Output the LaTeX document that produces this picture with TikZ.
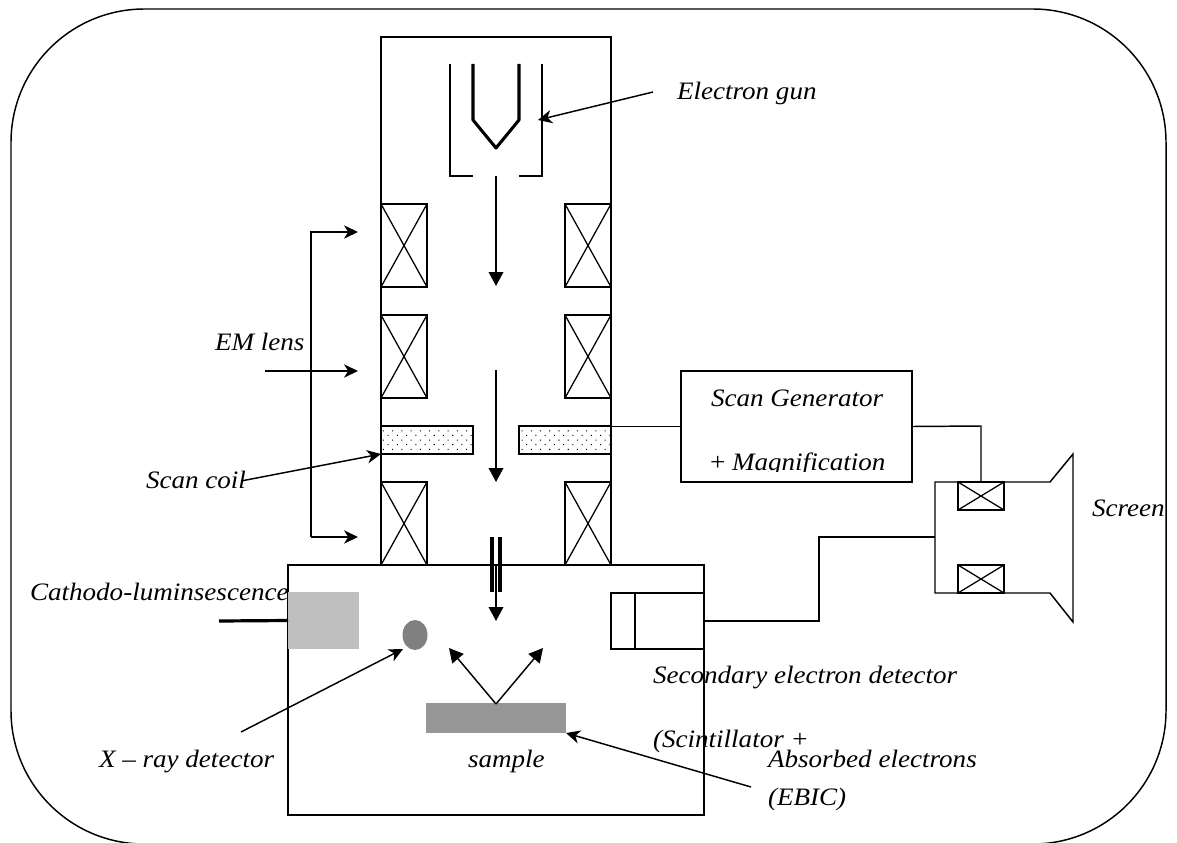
\documentclass[tikz,border=0pt]{standalone}
\usepackage{fontspec}
\setmainfont{Liberation Serif}[FakeStretch=1.08]
\usetikzlibrary{arrows.meta,patterns.meta,shapes.geometric}
\tikzset{
  wd/.style={minimum width=#1*0.75pt},
  ht/.style={minimum height=#1*0.75pt},
  boxn/.style={draw,rectangle,inner sep=0pt,outer sep=0pt},
  coiln/.style={boxn,fill=white},
  dotn/.style={boxn,pattern={Dots[distance=4.9pt,radius=0.55pt,angle=45]},wd=92,ht=28},
  lab/.style={inner sep=0pt,outer sep=0pt,anchor=base west,font=\fontsize{18.8}{22}\selectfont\itshape},
  barb/.style={-{Stealth[length=10.5pt,width=10pt,inset=3.2pt]}},
  tri/.style={-{Triangle[length=10.5pt,width=11pt]}},
  grayn/.style={inner sep=0pt,outer sep=0pt,draw=none}
}
\newcommand{\crossit}[1]{\draw[line width=0.95pt] (#1.north west)--(#1.south east) (#1.north east)--(#1.south west);}
\begin{document}
\begin{tikzpicture}[x=0.75pt,y=-0.75pt,line width=1.1pt]
\useasboundingbox (0,0) rectangle (1177,842);
% outer frame
\node[draw,rectangle,rounded corners=100pt,inner sep=0pt,wd=1155,ht=835] (frame) at (588.5,426.5) {};
% column and chamber
\node[boxn,wd=230,ht=528] (column) at (496,301) {};
\node[boxn,wd=416,ht=250] (chamber) at (496,690) {};
% lens coils
\node[coiln,wd=46,ht=83] (c1) at (404,245.5) {};
\node[coiln,wd=46,ht=83] (c2) at (404,356.5) {};
\node[coiln,wd=46,ht=83] (c3) at (404,523.5) {};
\node[coiln,wd=46,ht=83] (c4) at (588,245.5) {};
\node[coiln,wd=46,ht=83] (c5) at (588,356.5) {};
\node[coiln,wd=46,ht=83] (c6) at (588,523.5) {};
\crossit{c1}\crossit{c2}\crossit{c3}\crossit{c4}\crossit{c5}\crossit{c6}
% scan coils
\node[dotn] (sl) at (427,440) {};
\node[dotn] (sr) at (565,440) {};
% gun
\coordinate (gl) at (450,64);
\coordinate (glb) at (450,176);
\coordinate (glf) at (473,176);
\coordinate (gr) at (542,64);
\coordinate (grb) at (542,176);
\coordinate (grf) at (519,176);
\draw (gl)--(glb)--(glf) (gr)--(grb)--(grf);
\coordinate (ca) at (473,64);
\coordinate (cb) at (473,120);
\coordinate (cc) at (496,148);
\coordinate (cd) at (519,120);
\coordinate (ce) at (519,64);
\draw[line width=2.3pt,line join=round] (ca)--(cb)--(cc)--(cd)--(ce);
% beam
\coordinate (b1) at (496,176);
\coordinate (b1e) at (496,286);
\coordinate (b2) at (496,370);
\coordinate (b2e) at (496,482);
\coordinate (b3) at (496,565);
\coordinate (b3e) at (496,621);
\draw[tri] (b1)--(b1e);
\draw[tri] (b2)--(b2e);
\draw[tri] (b3)--(b3e);
\coordinate (ap1) at (492,537);
\coordinate (ap1e) at (492,592);
\coordinate (ap2) at (500,537);
\coordinate (ap2e) at (500,592);
\draw[line width=3pt] (ap1)--(ap1e) (ap2)--(ap2e);
% chamber contents
\node[rectangle,grayn,fill=black!25,wd=71,ht=57] (cl) at (323.5,620.5) {};
\coordinate (clw) at (219,621);
\draw[line width=2.4pt] (clw)--(cl.west);
\node[ellipse,grayn,fill=black!50,wd=25,ht=30] (xd) at (415,635) {};
\node[rectangle,grayn,fill=black!41,wd=140,ht=30] (smp) at (496,718) {};
\coordinate (vv) at (496,704);
\coordinate (va) at (449,648);
\coordinate (vb) at (543,648);
\draw[tri] (vv)--(va);
\draw[tri] (vv)--(vb);
\node[boxn,wd=93,ht=56] (det) at (657.5,621) {};
\coordinate (d1) at (635,593);
\coordinate (d2) at (635,649);
\draw (d1)--(d2);
% scan generator
\node[boxn,wd=231,ht=111] (gen) at (796.5,426.5) {};
% screen
\coordinate (s1) at (935,482);
\coordinate (s2) at (1050,482);
\coordinate (s3) at (1073,454);
\coordinate (s4) at (1073,622);
\coordinate (s5) at (1050,593);
\coordinate (s6) at (935,593);
\draw[line join=miter] (s1)--(s2)--(s3)--(s4)--(s5)--(s6)--cycle;
\node[coiln,wd=46,ht=28] (k1) at (981,496) {};
\node[coiln,wd=46,ht=28] (k2) at (981,579) {};
\crossit{k1}\crossit{k2}
% wires
\draw (column.east |- gen.west)--(gen.west);
\coordinate (wa) at (981,426);
\draw (gen.east)--(wa)--(k1.north);
\coordinate (wb) at (819,621);
\coordinate (wc) at (819,537);
\coordinate (wd) at (935,537);
\draw (det.east)--(wb)--(wc)--(wd);
% pointers
\coordinate (p1) at (653,92);
\coordinate (p1e) at (538,120);
\draw[barb] (p1)--(p1e);
\coordinate (p2) at (311,232);
\coordinate (p2e) at (358,232);
\coordinate (p3) at (311,537);
\coordinate (p3e) at (358,537);
\draw[barb] (p3) -- (p2) -- (p2e);
\draw[barb] (p3) -- (p3e);
\coordinate (p4) at (265,371);
\coordinate (p4e) at (358,371);
\draw[barb] (p4)--(p4e);
\coordinate (p5) at (241,481);
\draw[barb] (p5)--(sl.south west);
\coordinate (p6) at (241,732);
\coordinate (p6e) at (403,649);
\draw[barb] (p6)--(p6e);
\coordinate (p7) at (751,787);
\draw[barb] (p7)--(smp.south east);
% labels
\node[lab] (t1) at (677,99) {Electron gun};
\node[lab] (t2) at (215,350) {EM lens};
\node[lab] (t3) at (146,488) {Scan coil};
\node[lab] (t4) at (711,406) {Scan Generator};
\begin{scope}
\clip (681,440) rectangle (912,471);
\node[lab] (t5) at (710,470) {{\upshape +} Magnification};
\end{scope}
\node[lab] (t6) at (1092,516) {Screen};
\node[lab] (t7) at (30,600) {Cathodo-luminsescence};
\node[lab] (t8) at (99,767) {X – ray detector};
\node[lab] (t9) at (468,767) {sample};
\node[lab] (t10) at (653,683) {Secondary electron detector};
\node[lab] (t11) at (653,747) {(Scintillator +};
\node[lab] (t12) at (768,767) {Absorbed electrons};
\node[lab] (t13) at (768,805) {(EBIC)};
\end{tikzpicture}
\end{document}
